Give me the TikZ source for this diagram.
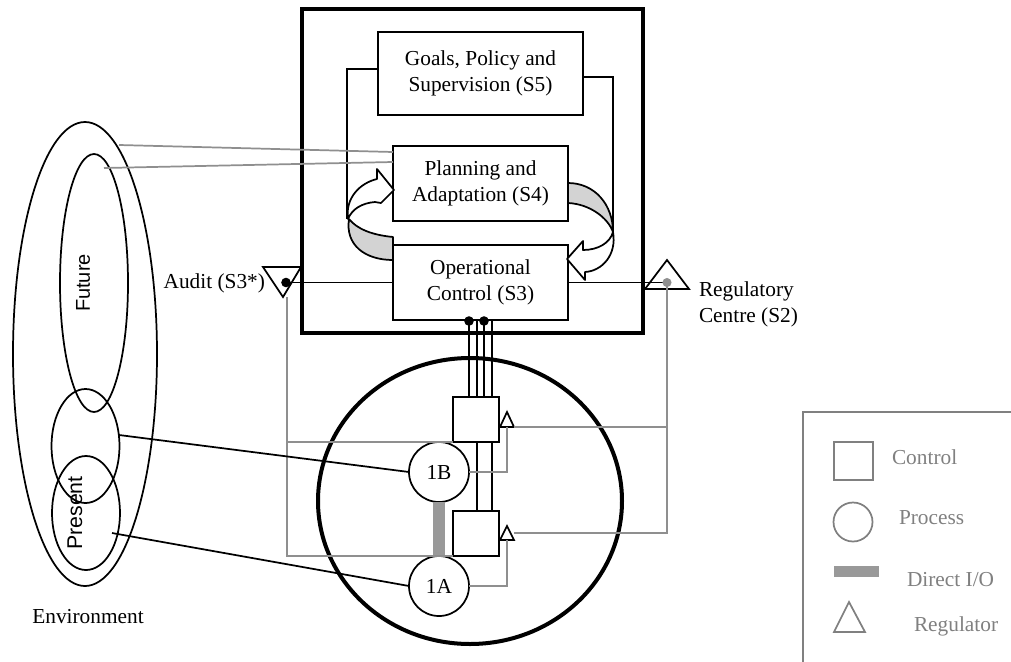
\documentclass[tikz,border=0pt]{standalone}
\usepackage{fontspec}
\setmainfont{Liberation Serif}
\newfontfamily\labelsans{Liberation Sans}
\usetikzlibrary{shapes.geometric}
\definecolor{linkgray}{HTML}{8F8F8F}
\definecolor{iogray}{HTML}{999999}
\definecolor{ribbongray}{HTML}{D3D3D3}
\definecolor{keygray}{HTML}{808080}
\begin{document}
\begin{tikzpicture}[x=0.75pt,y=-0.75pt,
  every node/.style={inner sep=0pt, outer sep=0pt},
  txt/.style={font=\fontsize{16}{19.5}\selectfont, align=center},
  sysbox/.style={draw, line width=1.3pt, fill=white, minimum width=131.25pt, minimum height=56.25pt, txt},
  ctlbox/.style={draw, line width=1.3pt, fill=white, minimum width=34.5pt, minimum height=33.75pt},
  proc/.style={draw, circle, line width=1.3pt, fill=white, minimum size=45pt, txt},
  wire/.style={line width=1.3pt},
  glink/.style={draw=linkgray, line width=1.3pt},
  ring/.style={draw, ellipse, line width=1.3pt},
  regtri/.style={draw, line width=1.3pt, fill=white, line join=miter},
  ribbon/.style={draw, line width=1.3pt, line join=round},
  keytext/.style={font=\fontsize{16}{19.5}\selectfont, text=keygray, anchor=west},
  keyline/.style={draw=keygray, line width=1.3pt},
]
\useasboundingbox (0,0) rectangle (1011,661);

% ---------- environment ----------
\node[ring, minimum width=108pt, minimum height=348pt] (env) at (85,354) {};
\node[ring, minimum width=51pt, minimum height=193.5pt] (fut) at (94,283) {};
\node[ring, minimum width=51pt, minimum height=85.5pt] (nearfut) at (85.5,446) {};
\node[ring, minimum width=51pt, minimum height=85.5pt] (pres) at (86,513) {};
\node[font=\labelsans\fontsize{15}{18}\selectfont, rotate=90] (futlbl) at (83,283) {Future};
\node[font=\labelsans\fontsize{16}{19}\selectfont, rotate=90] (preslbl) at (75,513) {Present};
\node[txt] (envlbl) at (88,617) {Environment};

\coordinate (envlink) at (119,145);
\coordinate (futlink) at (104,168);
\coordinate (nearlink) at (119,435);
\coordinate (preslink) at (112,533);

% ---------- operations ----------
\node[ring, line width=3pt, minimum width=228pt, minimum height=214.5pt] (ops) at (470,501) {};

% ---------- metasystem ----------
\draw[line width=3pt] (302,9) rectangle (643,333);

\node[sysbox, minimum width=153.75pt, minimum height=62.25pt] (s5) at (480.5,73.5) {Goals, Policy and\\Supervision (S5)};
\node[sysbox] (s4) at (480.5,183.5) {Planning and\\Adaptation (S4)};
\node[sysbox] (s3) at (480.5,282.5) {Operational\\Control (S3)};

% S5 feedback lines into the loop
\draw[wire] (s5.west |- 0,69) -| (347,219);
\draw[wire] (s5.east |- 0,77) -| (613,232);

% S3 -> S4 curved ribbon arrow (left)
\filldraw[ribbon, fill=ribbongray] (393,237) .. controls (372,235) and (357,229) .. (349,219)
  .. controls (345,245) and (365,260) .. (393,260) -- cycle;
\filldraw[ribbon, fill=white] (348,219) .. controls (345,198) and (360,183) .. (377,179)
  -- (377,169) -- (394,190) -- (381,203) -- (375,202)
  .. controls (362,203) and (352,209) .. (348,219) -- cycle;

% S4 -> S3 curved ribbon arrow (right)
\filldraw[ribbon, fill=ribbongray] (568,183) .. controls (595,183) and (613,205) .. (613,232)
  .. controls (608,218) and (590,204) .. (568,203) -- cycle;
\filldraw[ribbon, fill=white] (613,232) .. controls (617,255) and (602,271) .. (585,272)
  -- (585,280) -- (567,259) -- (583,241) -- (583,250)
  .. controls (598,250) and (610,243) .. (613,232) -- cycle;

% environment links
\draw[glink] (envlink) -- (s4.west |- 0,152);
\draw[glink] (futlink) -- (s4.west |- 0,162);

% ---------- audit (S3*) ----------
\coordinate (auditpt) at (286,282.5);
\draw[regtri] (263,267) -- (301,267) -- (283,297) -- cycle;
\node[txt, anchor=east] (audit) at (265,283) {Audit (S3*)};

% ---------- regulatory centre (S2) ----------
\coordinate (s2pt) at (667,282.5);
\draw[regtri] (645,289) -- (689,289) -- (667,260) -- cycle;
\node[txt, align=left, anchor=west] (s2) at (699,304) {Regulatory\\Centre (S2)};

\draw[wire] (s3.west) -- (auditpt);
\draw[wire] (s3.east) -- (s2pt);

% ---------- operational units ----------
\node[ctlbox] (ctlB) at (476,419.5) {};
\node[ctlbox] (ctlA) at (476,533.5) {};
\node[proc] (p1B) at (439,472) {1B};
\node[proc] (p1A) at (439,586) {1A};

% direct I/O between units
\fill[iogray] (433,0 |- p1B.south) rectangle (445,0 |- p1A.north);

% regulators on the control units
\draw[regtri] (500,427) -- (514,427) -- (507,412) -- cycle;
\draw[regtri] (500,540) -- (514,540) -- (507,526) -- cycle;

% S3 channels down to the units
\draw[wire] (469,0 |- s3.south) -- (469,0 |- ctlB.north);
\draw[wire] (477,0 |- s3.south) -- (477,0 |- ctlB.north);
\draw[wire] (484,0 |- s3.south) -- (484,0 |- ctlB.north);
\draw[wire] (492,0 |- s3.south) -- (492,0 |- ctlB.north);
\draw[wire] (477,0 |- ctlB.south) -- (477,0 |- ctlA.north);
\draw[wire] (492,0 |- ctlB.south) -- (492,0 |- ctlA.north);
\fill (469,321) circle (3.6pt);
\fill (484,321) circle (3.6pt);

% audit channel
\draw[glink] (287,297) -- (287,0 |- ctlA.south) -- (ctlA.south west);
\draw[glink] (287,0 |- ctlB.south) -- (ctlB.south west);

% regulation channels
\draw[glink] (p1B.east) -| (507,427);
\draw[glink] (p1A.east) -| (507,540);
\draw[glink] (514,427) -| (s2pt);
\draw[glink] (514,533) -| (s2pt);
\fill[linkgray] (s2pt) circle (3.4pt);
\fill (auditpt) circle (3.6pt);

% environment to units
\draw[wire] (nearlink) -- (p1B.west);
\draw[wire] (preslink) -- (p1A.west);

% ---------- key ----------
\draw[keyline] (803,662) -- (803,412) -- (1012,412);
\node[keyline, minimum width=29.25pt, minimum height=28.5pt] (keyctl) at (853.5,461) {};
\node[keytext] (keyctltxt) at (892,457) {Control};
\node[keyline, circle, minimum size=29.25pt] (keyproc) at (853,522) {};
\node[keytext] (keyproctxt) at (899,518) {Process};
\fill[iogray] (834,566) rectangle (879,577);
\node[keytext] (keyiotxt) at (907,580) {Direct I/O};
\draw[keyline, line join=miter] (849,602) -- (865,632) -- (834,632) -- cycle;
\node[keytext] (keyregtxt) at (914,626) {Regulator};
\end{tikzpicture}
\end{document}
